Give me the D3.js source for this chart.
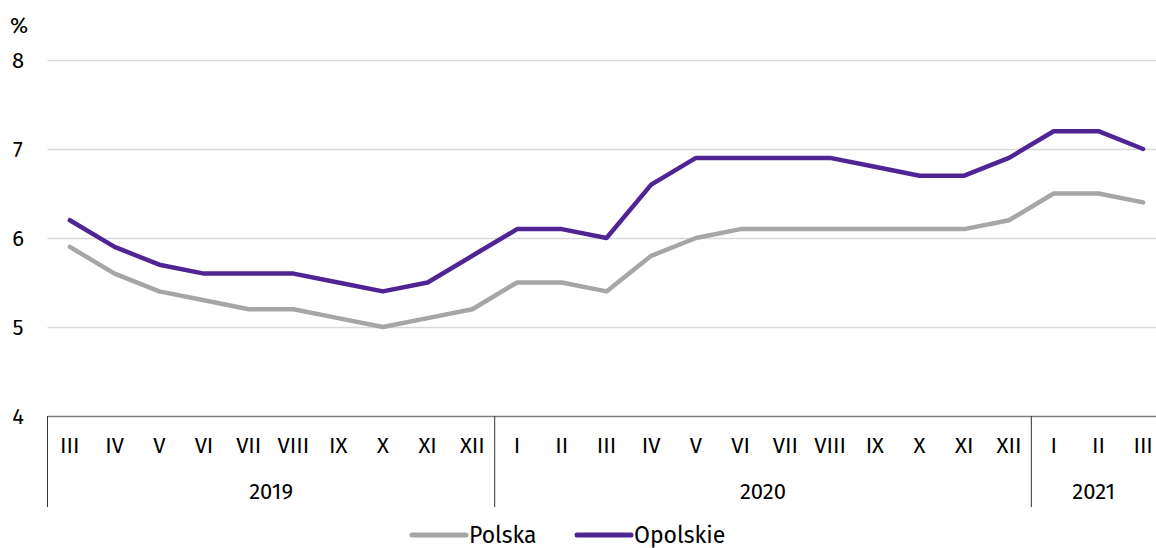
<!DOCTYPE html>
<html>
<head>
<meta charset="utf-8">
<script src="https://cdn.jsdelivr.net/npm/d3@7"></script>
<style>
  body { margin: 0; background: #fff; overflow: hidden; }
  text { font-family: "Fira Sans", "Open Sans", sans-serif; fill: #000; }
</style>
</head>
<body>
<div id="chart"></div>
<script>
const width = 1156;
const height = 548;

const months = ["III","IV","V","VI","VII","VIII","IX","X","XI","XII",
                "I","II","III","IV","V","VI","VII","VIII","IX","X","XI","XII",
                "I","II","III"];
const years = [
    {label: "2019", start: 0, end: 10},
    {label: "2020", start: 10, end: 22},
    {label: "2021", start: 22, end: 25}
];
const polska = [5.9,5.6,5.4,5.3,5.2,5.2,5.1,5.0,5.1,5.2,
                5.5,5.5,5.4,5.8,6.0,6.1,6.1,6.1,6.1,6.1,6.1,6.2,
                6.5,6.5,6.4];
const opolskie = [6.2,5.9,5.7,5.6,5.6,5.6,5.5,5.4,5.5,5.8,
                  6.1,6.1,6.0,6.6,6.9,6.9,6.9,6.9,6.8,6.7,6.7,6.9,
                  7.2,7.2,7.0];
const yTicks = [4,5,6,7,8];

const series = [
    {name: "Polska", values: polska, color: "#a6a6a6"},
    {name: "Opolskie", values: opolskie, color: "#4f2596"}
];

let svg = d3.select("#chart")
    .append("svg")
    .attr("width", width)
    .attr("height", height);

let x = d3.scaleBand()
    .domain(d3.range(months.length))
    .range([47.5, 1165.5]);

let y = d3.scaleLinear()
    .domain([4, 8])
    .range([416, 60]);

// gridlines
svg.selectAll(".grid")
    .data(yTicks.filter(d => d > 4))
    .join("line")
    .attr("class", "grid")
    .attr("x1", 47.5)
    .attr("x2", width)
    .attr("y1", d => Math.round(y(d)) + 0.5)
    .attr("y2", d => Math.round(y(d)) + 0.5)
    .attr("stroke", "#d9d9d9")
    .attr("stroke-width", 1.5);

// y labels
svg.selectAll(".ylab")
    .data(yTicks)
    .join("text")
    .attr("class", "ylab")
    .attr("x", 18)
    .attr("y", d => y(d))
    .attr("dy", "0.35em")
    .attr("text-anchor", "middle")
    .style("font-size", "22px")
    .text(d => d);

svg.append("text")
    .attr("x", 19)
    .attr("y", 25)
    .attr("dy", "0.35em")
    .attr("text-anchor", "middle")
    .style("font-size", "22px")
    .text("%");

// category axis
svg.append("line")
    .attr("x1", 47.5).attr("x2", width)
    .attr("y1", 416.5).attr("y2", 416.5)
    .attr("stroke", "#7f7f7f")
    .attr("stroke-width", 1.5);

let seps = [0].concat(years.map(d => d.end));
svg.selectAll(".sep")
    .data(seps)
    .join("line")
    .attr("class", "sep")
    .attr("x1", d => d === months.length ? x.range()[1] : x(d))
    .attr("x2", d => d === months.length ? x.range()[1] : x(d))
    .attr("y1", 416)
    .attr("y2", 507)
    .attr("stroke", "#333")
    .attr("stroke-width", 1);

svg.selectAll(".mlab")
    .data(months)
    .join("text")
    .attr("class", "mlab")
    .attr("x", (d, i) => x(i) + x.bandwidth() / 2)
    .attr("y", 445)
    .attr("dy", "0.35em")
    .attr("text-anchor", "middle")
    .style("font-size", "22px")
    .text(d => d);

svg.selectAll(".ylab2")
    .data(years)
    .join("text")
    .attr("class", "ylab2")
    .attr("x", d => {
        let x0 = x(d.start);
        let x1 = Math.min(d.end === months.length ? x.range()[1] : x(d.end), width);
        return (x0 + x1) / 2;
    })
    .attr("y", 491)
    .attr("dy", "0.35em")
    .attr("text-anchor", "middle")
    .style("font-size", "22px")
    .text(d => d.label);

// lines
let line = d3.line()
    .x((d, i) => x(i) + x.bandwidth() / 2)
    .y(d => y(d));

svg.selectAll(".series")
    .data(series)
    .join("path")
    .attr("class", "series")
    .attr("fill", "none")
    .attr("stroke", d => d.color)
    .attr("stroke-width", 4.5)
    .attr("stroke-linejoin", "round")
    .attr("stroke-linecap", "round")
    .attr("d", d => line(d.values));

// legend
const legendX = [412, 577];
let legend = svg.selectAll(".legend")
    .data(series)
    .join("g")
    .attr("class", "legend")
    .attr("transform", (d, i) => `translate(${legendX[i]},535)`);

legend.append("line")
    .attr("x1", 0).attr("x2", 54)
    .attr("stroke", d => d.color)
    .attr("stroke-width", 5)
    .attr("stroke-linecap", "round");

legend.append("text")
    .attr("x", 57)
    .attr("dy", "0.35em")
    .style("font-size", "23px")
    .text(d => d.name);
</script>
</body>
</html>
